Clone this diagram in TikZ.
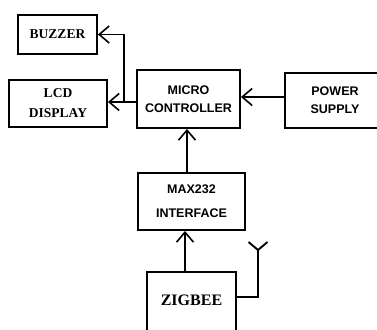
\documentclass[tikz,border=0pt]{standalone}
\usepackage{fontspec}
\setmainfont{Liberation Serif}
\setsansfont{Liberation Sans}
\usetikzlibrary{arrows.meta}
\begin{document}
\begin{tikzpicture}[x=1pt,y=-1pt,
  box/.style={draw,line width=1.9pt,inner sep=0pt,align=center},
  serifl/.style={font=\fontsize{13.5}{20}\selectfont\rmfamily\bfseries},
  sansl/.style={font=\fontsize{12.5}{18}\selectfont\sffamily\bfseries},
  conn/.style={line width=1.9pt},
  arr/.style={conn,-{Straight Barb[length=10pt,width=17pt,line width=1.6pt]}}]
\useasboundingbox (0,0) rectangle (377,329);
\fill[white] (0,0) rectangle (377,329);
\clip (0,0) rectangle (377,329);
\node[box,serifl,minimum width=79pt,minimum height=39pt] (buzzer) at (57.5,34.5) {BUZZER};
\node[box,serifl,minimum width=98pt,minimum height=47pt] (lcd) at (58,103.5) {LCD\\DISPLAY};
\node[box,sansl,minimum width=103pt,minimum height=58pt] (micro) at (188.5,99) {MICRO\\CONTROLLER};
\node[box,sansl,minimum width=100pt,minimum height=55pt] (power) at (335,100.5) {POWER\\SUPPLY};
\node[box,font=\fontsize{12.5}{24}\selectfont\sffamily\bfseries,minimum width=107pt,minimum height=57pt] (max) at (191.5,201.5) {MAX232\\INTERFACE};
\node[box,minimum width=89pt,minimum height=70pt] (zig) at (191.5,307) {};
\node[font=\fontsize{16}{18}\selectfont\rmfamily\bfseries] (zigt) at (191.5,300) {ZIGBEE};
\coordinate (j) at (124,102);
\coordinate (pw) at (285,97);
\coordinate (ant) at (258,297);
\coordinate (antt) at (258,250);
\coordinate (antl) at (248.5,242);
\coordinate (antr) at (267.5,242);
\draw[conn] (micro.west|-j) -- (j);
\draw[arr] (j) -- (lcd.east|-j);
\draw[arr] (j) |- (buzzer.east);
\draw[arr] (pw) -- (micro.east|-pw);
\draw[arr] (max.north-|187,0) -- (micro.south-|187,0);
\draw[arr] (zig.north-|185,0) -- (max.south-|185,0);
\draw[conn] (zig.east|-ant) -- (ant) -- (antt);
\draw[conn] (antl) -- (antt) -- (antr);
\end{tikzpicture}
\end{document}
